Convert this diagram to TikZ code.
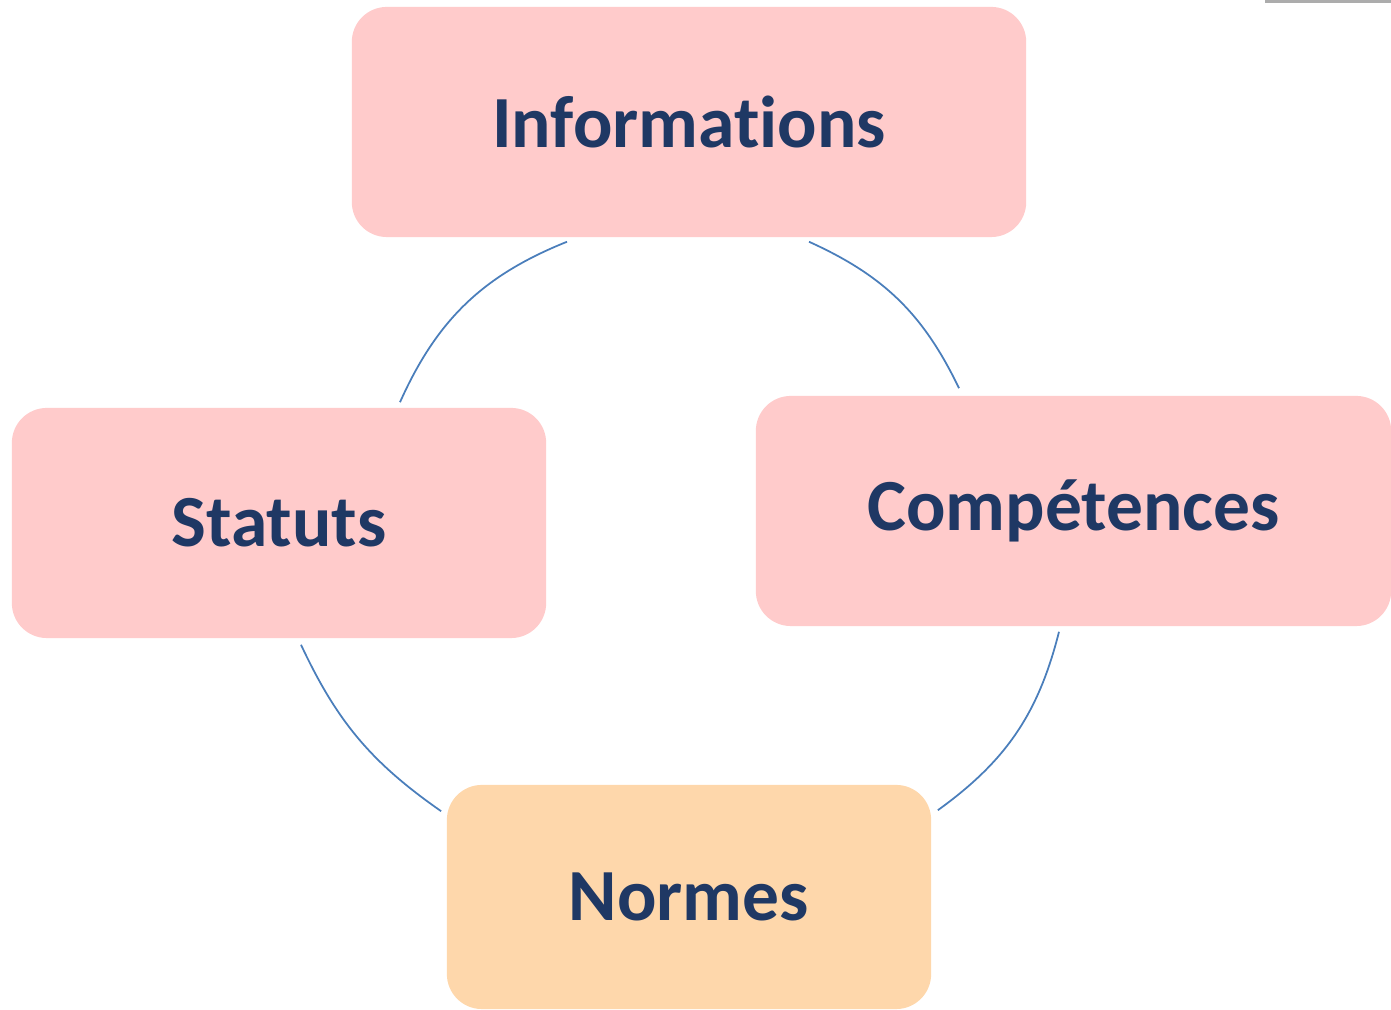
\documentclass[tikz,border=0pt]{standalone}
\usepackage{fontspec}
\setmainfont[Ligatures=NoCommon]{Carlito}
\usetikzlibrary{calc}

\definecolor{rose}{HTML}{FFCBCB}
\definecolor{peche}{HTML}{FED7AB}
\definecolor{marine}{HTML}{1F3864}
\definecolor{lien}{HTML}{4A7EBB}

\begin{document}
\begin{tikzpicture}[
    x=0.01cm, y=0.01cm,
    boite/.style={rectangle, rounded corners=0.35cm, draw=none,
                  minimum height=2.3cm, text=marine,
                  font=\fontsize{20.9}{25}\selectfont\bfseries},
    pole/.style={boite, fill=rose},
    norme/.style={boite, fill=peche},
    lien/.style={draw=lien, line width=0.5pt},
]

\useasboundingbox (0,0) rectangle (1391,1010);

% Boites du cycle
\node[pole, minimum width=6.74cm] (info) at (689,888) {Informations};
\node[pole, minimum width=5.34cm] (stat) at (279,487) {Statuts};
\node[pole, minimum width=6.35cm] (comp) at (1073.5,499) {Compétences};
\node[norme, minimum width=4.84cm, minimum height=2.24cm] (norm) at (689,113) {Normes};

% Arcs entre les boites
\draw[lien] ($(info.south)+(-122,-4)$) to[bend right=22] ($(stat.north)+(121,5)$);
\draw[lien] ($(info.south)+(120,-4)$) to[bend left=20] ($(comp.north)+(-114.5,7)$);
\draw[lien] ($(comp.south)+(-14.5,-5)$) to[bend left=20] ($(norm.north east)+(6,-26)$);
\draw[lien] ($(stat.south)+(22,-6)$) to[bend right=15] ($(norm.north west)+(-5,-27)$);

% Trait gris en haut a droite
\fill[gray!65] (1265,1007) rectangle (1391,1010);

\end{tikzpicture}
\end{document}
